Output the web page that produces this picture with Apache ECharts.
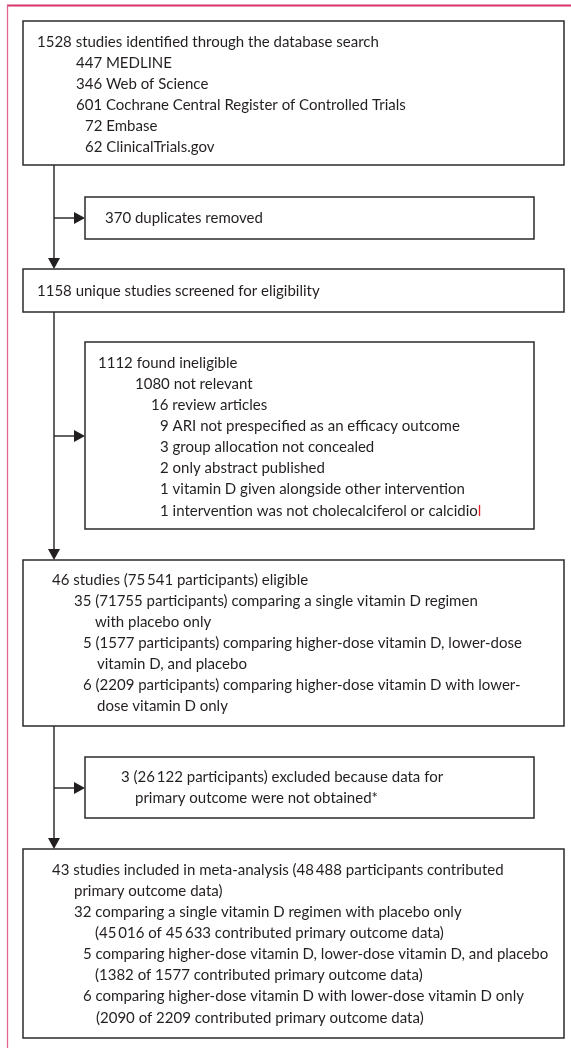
<!DOCTYPE html>
<html>
<head>
<meta charset="utf-8">
<script src="https://cdn.jsdelivr.net/npm/echarts@6/dist/echarts.min.js"></script>
<style>
html, body { margin: 0; padding: 0; background: #fff; }
#flowChart { width: 571px; height: 1048px; }
</style>
</head>
<body>
<div id="flowChart"></div>
<script>
// 各方框的文字
var searchLines = [
    '1528 studies identified through the database search',
    '447 MEDLINE',
    '346 Web of Science',
    '601 Cochrane Central Register of Controlled Trials',
    '72 Embase',
    '62 ClinicalTrials.gov'
];
var duplicateLines = ['370 duplicates removed'];
var screenedLines = ['1158 unique studies screened for eligibility'];
var ineligibleLines = [
    '1112 found ineligible',
    '1080 not relevant',
    '16 review articles',
    '9 ARI not prespecified as an efficacy outcome',
    '3 group allocation not concealed',
    '2 only abstract published',
    '1 vitamin D given alongside other intervention',
    '1 intervention was not cholecalciferol or calcidio{cursor|l}'
];
var eligibleLines = [
    '46 studies (75\u2009541 participants) eligible',
    '35 (71755 participants) comparing a single vitamin D regimen',
    'with placebo only',
    '5 (1577 participants) comparing higher-dose vitamin D, lower-dose',
    'vitamin D, and placebo',
    '6 (2209 participants) comparing higher-dose vitamin D with lower-',
    'dose vitamin D only'
];
var excludedLines = [
    '3 (26\u2009122 participants) excluded because data for',
    'primary outcome were not obtained*'
];
var includedLines = [
    '43 studies included in meta-analysis (48\u2009488 participants contributed',
    'primary outcome data)',
    '32 comparing a single vitamin D regimen with placebo only',
    '(45\u2009016 of 45\u2009633 contributed primary outcome data)',
    '5 comparing higher-dose vitamin D, lower-dose vitamin D, and placebo',
    '(1382 of 1577 contributed primary outcome data)',
    '6 comparing higher-dose vitamin D with lower-dose vitamin D only',
    '(2090 of 2209 contributed primary outcome data)'
];
var boxTexts = [searchLines, duplicateLines, screenedLines, ineligibleLines, eligibleLines, excludedLines, includedLines];

// 布局：方框位置 [x0, y0, x1, y1]
var boxRects = [
    [23, 21, 564, 165],
    [85, 197, 534, 239],
    [23, 269, 564, 312],
    [85, 342, 534, 529],
    [23, 560, 564, 726],
    [85, 757, 534, 818],
    [23, 849, 564, 1038]
];
// 每行文字起始x
var textIndent = [
    [37, 76, 76, 76, 85, 85],
    [105],
    [37],
    [98, 135, 151, 160, 160, 160, 160, 160],
    [52, 74, 95, 83, 97, 83, 97],
    [121, 135],
    [52, 74, 74, 95, 83, 95, 83, 96]
];
var firstLineY = [42, 218, 291, 363, 580, 777, 870];
var lineGap = 21.1;

// 连接线 [x0, y0, x1, y1]
var links = [
    [54, 165, 54, 269],
    [54, 218, 85, 218],
    [54, 312, 54, 560],
    [54, 436, 85, 436],
    [54, 726, 54, 849],
    [54, 788, 85, 788]
];

var textFont = 'Lato';
var textSize = 15;
</script>
<script>
//绘制流程图
function RenderFlow() {
    var myChart = echarts.init(document.getElementById('flowChart'), null, { renderer: 'canvas' });

    function renderBox(params, api) {
        var i = params.dataIndex;
        var p0 = api.coord([api.value(0), api.value(1)]);
        var p1 = api.coord([api.value(2), api.value(3)]);
        var children = [{
            type: 'rect',
            shape: { x: p0[0], y: p0[1], width: p1[0] - p0[0], height: p1[1] - p0[1] },
            style: { fill: '#fff', stroke: '#2b2b2b', lineWidth: 1.5 }
        }];
        boxTexts[i].forEach(function (t, k) {
            var pt = api.coord([textIndent[i][k], firstLineY[i] + k * lineGap]);
            children.push({
                type: 'text',
                style: {
                    text: t,
                    x: pt[0],
                    y: pt[1],
                    fill: '#231f20',
                    fontFamily: textFont,
                    fontSize: textSize,
                    align: 'left',
                    verticalAlign: 'middle',
                    rich: { cursor: { fill: '#e8202a', fontFamily: textFont, fontSize: textSize } }
                }
            });
        });
        return { type: 'group', children: children };
    }

    function renderLink(params, api) {
        var a = api.coord([api.value(0), api.value(1)]);
        var b = api.coord([api.value(2), api.value(3)]);
        var dx = b[0] - a[0], dy = b[1] - a[1];
        var len = Math.sqrt(dx * dx + dy * dy);
        var ux = dx / len, uy = dy / len;
        var headLen = 11, headHalf = 6;
        var base = [b[0] - ux * headLen, b[1] - uy * headLen];
        return {
            type: 'group',
            children: [{
                type: 'line',
                shape: { x1: a[0], y1: a[1], x2: base[0], y2: base[1] },
                style: { stroke: '#231f20', lineWidth: 1.4 }
            }, {
                type: 'polygon',
                shape: { points: [
                    [b[0], b[1]],
                    [base[0] - uy * headHalf, base[1] + ux * headHalf],
                    [base[0] + uy * headHalf, base[1] - ux * headHalf]
                ] },
                style: { fill: '#231f20' }
            }]
        };
    }

    function renderFrame(params, api) {
        var tl = api.coord([7.5, 5.5]);
        var tr = api.coord([571, 5.5]);
        var bl = api.coord([7.5, 1048]);
        return {
            type: 'group',
            children: [{
                type: 'line',
                shape: { x1: tl[0], y1: tl[1], x2: tr[0], y2: tr[1] },
                style: { stroke: '#d7336a', lineWidth: 2 }
            }, {
                type: 'line',
                shape: { x1: tl[0], y1: tl[1] - 1, x2: bl[0], y2: bl[1] },
                style: { stroke: '#e0648c', lineWidth: 1.3 }
            }]
        };
    }

    var option = {
        animation: false,
        grid: { left: 0, right: 0, top: 0, bottom: 0 },
        xAxis: { type: 'value', min: 0, max: 571, show: false },
        yAxis: { type: 'value', min: 0, max: 1048, inverse: true, show: false },
        series: [
            {
                type: 'custom',
                name: 'frame',
                renderItem: renderFrame,
                data: [[0, 0]],
                silent: true
            },
            {
                type: 'custom',
                name: 'links',
                renderItem: renderLink,
                encode: { x: [0, 2], y: [1, 3] },
                data: links,
                silent: true
            },
            {
                type: 'custom',
                name: 'boxes',
                renderItem: renderBox,
                encode: { x: [0, 2], y: [1, 3] },
                data: boxRects,
                silent: true
            }
        ]
    };

    myChart.setOption(option);
}
RenderFlow();
</script>
</body>
</html>
